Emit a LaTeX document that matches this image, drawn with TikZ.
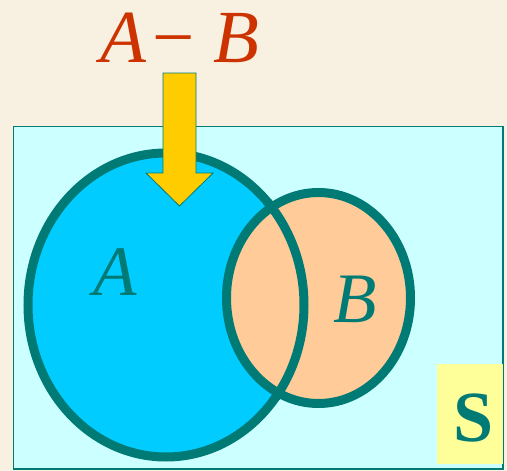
\documentclass[tikz,border=0pt]{standalone}
\usepackage{fontspec}
\setmainfont{Liberation Serif}[ItalicFont={Liberation Serif Italic},BoldFont={Liberation Serif Bold}]
\newfontfamily\titfont{Liberation Serif Italic}
\newfontfamily\bfont{Liberation Serif Bold}
\definecolor{bgc}{HTML}{F8F1E2}
\definecolor{tealc}{RGB}{0,122,116}
\definecolor{cyanbg}{HTML}{CCFFFF}
\definecolor{ablue}{HTML}{00CCFF}
\definecolor{peach}{HTML}{FFCC99}
\definecolor{ayellow}{HTML}{FFCC00}
\definecolor{syellow}{HTML}{FFFF99}
\definecolor{redc}{HTML}{CC3300}
\begin{document}
\begin{tikzpicture}[x=1pt,y=-1pt,
  setline/.style={draw=tealc,line width=9},
  lbl/.style={inner sep=0,anchor=base west,text=tealc,font=\fontsize{71}{71}\selectfont\titfont}]
\fill[bgc] (0,0) rectangle (507,471);
\useasboundingbox (0,0) rectangle (507,471);
% universe S
\draw[tealc,line width=1.5,fill=cyanbg] (13.5,126.5) rectangle (503,469);
\fill[syellow] (437,364) rectangle (502.5,464);
\node[inner sep=0,anchor=base,text=tealc,font=\fontsize{72}{72}\selectfont\bfont] (s) at (473.5,441) {S};
% sets
\draw[setline,fill=ablue] (166,305) ellipse [x radius=138, y radius=152];
\draw[setline,fill=peach] (318.5,298) ellipse [x radius=92, y radius=105.5];
\begin{scope}
  \clip (318.5,298) ellipse [x radius=99, y radius=112.5];
  \draw[setline] (166,305) ellipse [x radius=138, y radius=152];
\end{scope}
\node[lbl] (la) at (93,295) {A};
\node[lbl] (lb) at (333,322) {B};
% block arrow
\draw[tealc,line width=0.8,fill=ayellow,line join=miter]
  (163,73) -- (196,73) -- (196,173) -- (213,173) -- (179.5,206) -- (146,173) -- (163,173) -- cycle;
% title
\node[inner sep=0,anchor=base west,text=redc,font=\fontsize{75}{75}\selectfont] (amb) at (100,63)
  {{\titfont A}\kern6pt−\kern19pt{\titfont B}};
\end{tikzpicture}
\end{document}
